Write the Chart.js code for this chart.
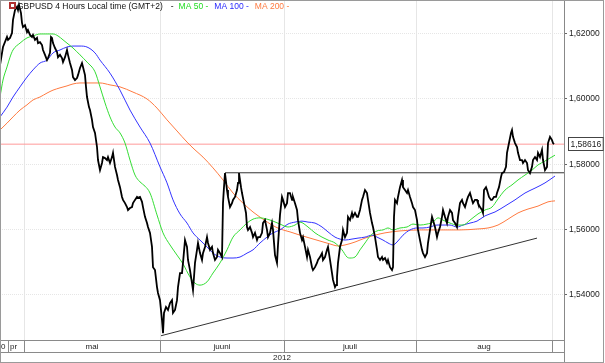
<!DOCTYPE html>
<html><head><meta charset="utf-8">
<script src="https://cdn.jsdelivr.net/npm/chart.js@4"></script>
<style>html,body{margin:0;padding:0;background:#fff}canvas{display:block}</style>
</head><body>
<canvas id="c" width="605" height="363"></canvas>
<script>
const titleText = 'GBPUSD 4 Hours Local time (GMT+2)';
const maNames = ['MA 50', 'MA 100', 'MA 200'];
const yTicks = [1.54, 1.56, 1.58, 1.60, 1.62];
const monthStarts = [24, 160, 284, 416, 552];
const monthLabels = ['mai', 'juuni', 'juuli', 'aug'];
const leadLabels = ['0', 'pr'];
const yearLabel = '2012';
const lastPrice = 1.58616;

// [bar index (4h bars), close]
const priceSeries = [[0,1.6104],[3,1.6159],[7,1.6190],[8,1.6181],[10,1.6187],[12,1.6202],[13,1.6242],[15,1.6272],[17,1.6282],[18,1.6272],[19,1.6288],[21,1.6263],[22,1.6233],[23,1.6220],[25,1.6226],[27,1.6205],[28,1.6211],[30,1.6196],[32,1.6190],[33,1.6196],[35,1.6181],[37,1.6187],[38,1.6171],[40,1.6174],[42,1.6165],[43,1.6150],[45,1.6135],[47,1.6119],[48,1.6125],[50,1.6141],[51,1.6190],[52,1.6187],[53,1.6171],[55,1.6156],[57,1.6144],[58,1.6128],[60,1.6135],[62,1.6125],[63,1.6113],[65,1.6128],[67,1.6150],[68,1.6135],[70,1.6110],[72,1.6089],[73,1.6067],[75,1.6058],[77,1.6064],[78,1.6073],[80,1.6095],[82,1.6110],[83,1.6098],[85,1.6073],[86,1.6037],[87,1.6006],[89,1.5975],[90,1.5966],[92,1.5936],[93,1.5914],[95,1.5896],[97,1.5853],[98,1.5813],[100,1.5782],[102,1.5804],[103,1.5822],[105,1.5819],[107,1.5813],[108,1.5822],[110,1.5804],[112,1.5822],[113,1.5835],[115,1.5792],[117,1.5767],[118,1.5752],[120,1.5730],[122,1.5700],[123,1.5691],[125,1.5681],[127,1.5669],[128,1.5660],[130,1.5666],[132,1.5669],[133,1.5681],[135,1.5691],[137,1.5700],[138,1.5697],[140,1.5700],[142,1.5685],[143,1.5669],[145,1.5639],[147,1.5620],[148,1.5608],[150,1.5590],[152,1.5547],[153,1.5485],[155,1.5476],[157,1.5424],[158,1.5406],[160,1.5384],[162,1.5323],[163,1.5283],[164,1.5345],[166,1.5363],[168,1.5354],[170,1.5375],[172,1.5384],[173,1.5345],[175,1.5354],[177,1.5384],[178,1.5424],[180,1.5467],[182,1.5467],[183,1.5498],[185,1.5568],[187,1.5547],[188,1.5507],[190,1.5476],[192,1.5436],[193,1.5415],[194,1.5455],[195,1.5498],[197,1.5538],[198,1.5559],[200,1.5528],[202,1.5507],[203,1.5528],[205,1.5547],[207,1.5577],[208,1.5559],[210,1.5538],[212,1.5547],[213,1.5528],[215,1.5507],[217,1.5516],[218,1.5538],[220,1.5528],[222,1.5516],[223,1.5681],[224,1.5730],[225,1.5773],[227,1.5721],[228,1.5700],[230,1.5669],[232,1.5681],[233,1.5691],[235,1.5700],[237,1.5721],[238,1.5743],[239,1.5773],[241,1.5730],[242,1.5712],[244,1.5681],[246,1.5651],[247,1.5608],[248,1.5599],[250,1.5608],[252,1.5590],[253,1.5577],[255,1.5590],[257,1.5568],[258,1.5577],[260,1.5577],[262,1.5590],[263,1.5620],[265,1.5629],[267,1.5599],[268,1.5577],[270,1.5590],[272,1.5620],[273,1.5599],[275,1.5522],[277,1.5498],[278,1.5553],[280,1.5645],[282,1.5700],[283,1.5691],[285,1.5669],[287,1.5681],[288,1.5712],[290,1.5712],[292,1.5691],[293,1.5700],[295,1.5681],[297,1.5660],[298,1.5629],[300,1.5590],[302,1.5568],[303,1.5577],[305,1.5547],[307,1.5516],[308,1.5538],[310,1.5516],[312,1.5485],[313,1.5476],[315,1.5485],[317,1.5498],[318,1.5507],[320,1.5516],[322,1.5528],[323,1.5507],[325,1.5516],[327,1.5538],[328,1.5547],[330,1.5507],[332,1.5467],[333,1.5446],[335,1.5424],[336,1.5430],[337,1.5455],[338,1.5498],[340,1.5547],[342,1.5568],[343,1.5599],[345,1.5577],[347,1.5590],[348,1.5639],[350,1.5629],[352,1.5651],[353,1.5639],[355,1.5651],[357,1.5639],[358,1.5639],[360,1.5660],[362,1.5691],[363,1.5700],[365,1.5721],[367,1.5712],[368,1.5691],[370,1.5651],[372,1.5620],[373,1.5608],[375,1.5577],[377,1.5538],[378,1.5516],[380,1.5507],[382,1.5516],[383,1.5507],[385,1.5513],[387,1.5498],[388,1.5507],[390,1.5485],[392,1.5476],[393,1.5485],[394,1.5639],[395,1.5691],[397,1.5681],[398,1.5700],[400,1.5730],[402,1.5752],[403,1.5730],[405,1.5721],[407,1.5712],[408,1.5721],[410,1.5700],[412,1.5681],[413,1.5669],[415,1.5660],[417,1.5629],[418,1.5599],[420,1.5568],[422,1.5538],[423,1.5528],[425,1.5516],[427,1.5528],[428,1.5559],[430,1.5599],[432,1.5639],[433,1.5629],[435,1.5608],[437,1.5577],[438,1.5590],[440,1.5608],[442,1.5639],[443,1.5660],[445,1.5639],[447,1.5620],[448,1.5639],[450,1.5660],[452,1.5651],[453,1.5629],[455,1.5620],[457,1.5608],[458,1.5639],[460,1.5681],[462,1.5691],[463,1.5681],[465,1.5669],[467,1.5691],[468,1.5700],[470,1.5712],[472,1.5691],[473,1.5681],[475,1.5691],[477,1.5691],[478,1.5681],[480,1.5669],[482,1.5660],[483,1.5651],[484,1.5721],[486,1.5730],[487,1.5721],[489,1.5700],[491,1.5691],[492,1.5691],[494,1.5700],[496,1.5700],[497,1.5712],[499,1.5730],[501,1.5761],[502,1.5773],[504,1.5776],[506,1.5792],[507,1.5835],[509,1.5865],[511,1.5896],[512,1.5905],[513,1.5884],[515,1.5865],[517,1.5853],[518,1.5835],[520,1.5813],[522,1.5813],[523,1.5804],[525,1.5813],[527,1.5804],[528,1.5782],[530,1.5773],[532,1.5792],[533,1.5813],[535,1.5822],[537,1.5813],[538,1.5835],[540,1.5822],[542,1.5844],[543,1.5813],[545,1.5782],[547,1.5792],[548,1.5865],[550,1.5884],[552,1.5874],[553,1.5865],[554,1.5862]];

const ma50 = [[0,1.6006],[3,1.6058],[7,1.6098],[10,1.6128],[13,1.6150],[20,1.6171],[27,1.6187],[33,1.6193],[40,1.6199],[47,1.6199],[53,1.6199],[58,1.6193],[63,1.6181],[67,1.6171],[73,1.6156],[80,1.6135],[87,1.6113],[95,1.6083],[100,1.6037],[105,1.5988],[110,1.5945],[115,1.5914],[120,1.5896],[125,1.5865],[130,1.5813],[135,1.5767],[140,1.5746],[145,1.5733],[150,1.5712],[157,1.5645],[163,1.5590],[170,1.5553],[177,1.5522],[183,1.5495],[190,1.5455],[195,1.5436],[200,1.5430],[207,1.5440],[213,1.5467],[220,1.5498],[227,1.5538],[233,1.5577],[240,1.5599],[247,1.5620],[253,1.5632],[260,1.5636],[267,1.5632],[273,1.5626],[280,1.5617],[288,1.5608],[295,1.5614],[300,1.5623],[308,1.5608],[315,1.5590],[322,1.5577],[328,1.5568],[335,1.5559],[342,1.5538],[347,1.5516],[350,1.5513],[355,1.5516],[360,1.5538],[365,1.5559],[370,1.5580],[377,1.5596],[383,1.5599],[388,1.5605],[393,1.5599],[400,1.5605],[407,1.5608],[413,1.5617],[420,1.5614],[427,1.5617],[433,1.5623],[438,1.5636],[443,1.5629],[450,1.5620],[457,1.5614],[463,1.5614],[470,1.5629],[478,1.5648],[485,1.5660],[492,1.5669],[498,1.5694],[505,1.5721],[512,1.5737],[518,1.5752],[525,1.5767],[532,1.5782],[538,1.5798],[545,1.5810],[550,1.5819],[555,1.5828]];

const ma100 = [[0,1.5945],[7,1.5975],[13,1.6006],[20,1.6037],[27,1.6067],[33,1.6089],[40,1.6110],[47,1.6119],[53,1.6141],[60,1.6150],[67,1.6159],[73,1.6162],[80,1.6162],[87,1.6159],[95,1.6141],[100,1.6119],[110,1.6079],[120,1.6027],[130,1.5966],[140,1.5914],[150,1.5865],[160,1.5792],[167,1.5743],[173,1.5691],[180,1.5648],[187,1.5620],[193,1.5590],[200,1.5568],[207,1.5547],[213,1.5528],[220,1.5516],[227,1.5513],[233,1.5513],[240,1.5516],[247,1.5528],[253,1.5538],[260,1.5559],[267,1.5577],[273,1.5590],[280,1.5599],[288,1.5617],[295,1.5623],[302,1.5626],[308,1.5623],[315,1.5620],[322,1.5608],[328,1.5593],[335,1.5577],[340,1.5571],[345,1.5568],[352,1.5571],[358,1.5574],[365,1.5577],[372,1.5583],[377,1.5577],[383,1.5568],[388,1.5559],[393,1.5553],[397,1.5562],[403,1.5583],[410,1.5599],[417,1.5605],[423,1.5605],[430,1.5608],[437,1.5614],[443,1.5614],[450,1.5614],[457,1.5608],[463,1.5614],[470,1.5620],[477,1.5626],[485,1.5642],[495,1.5654],[505,1.5672],[515,1.5691],[525,1.5712],[535,1.5727],[545,1.5743],[555,1.5764]];

const ma200 = [[0,1.5905],[7,1.5926],[13,1.5945],[20,1.5966],[27,1.5982],[33,1.5997],[40,1.6006],[47,1.6018],[53,1.6027],[60,1.6034],[67,1.6040],[73,1.6046],[80,1.6049],[90,1.6049],[100,1.6049],[110,1.6043],[120,1.6037],[133,1.6021],[147,1.6000],[157,1.5972],[167,1.5936],[177,1.5902],[187,1.5868],[195,1.5844],[203,1.5822],[213,1.5789],[223,1.5752],[233,1.5712],[243,1.5681],[253,1.5654],[263,1.5632],[272,1.5614],[280,1.5602],[290,1.5593],[300,1.5583],[310,1.5574],[320,1.5565],[330,1.5556],[338,1.5550],[345,1.5553],[355,1.5562],[365,1.5574],[375,1.5583],[385,1.5590],[400,1.5596],[420,1.5599],[440,1.5599],[460,1.5599],[478,1.5602],[488,1.5605],[498,1.5614],[508,1.5632],[518,1.5651],[528,1.5663],[538,1.5672],[548,1.5685],[555,1.5688]];

const resistanceLine = [[225,1.5774],[564,1.5774]];
const supportLine = [[161,1.5275],[537,1.5574]];
const lastPriceLine = [[0,lastPrice],[564,lastPrice]];

const FONT = '"Liberation Sans", Arial, sans-serif';
const pts = a => a.map(([x, y]) => ({x, y}));

const deco = {
  id: 'deco',
  afterDraw(chart) {
    const ctx = chart.ctx, ca = chart.chartArea, xs = chart.scales.x, ys = chart.scales.y;
    ctx.save();
    // bottom time axis
    const top = Math.round(ca.bottom) + 0.5, mid = top + 12, right = Math.round(ca.right) + 0.5;
    ctx.strokeStyle = '#8a8a8a'; ctx.lineWidth = 1;
    ctx.beginPath();
    ctx.moveTo(0, top); ctx.lineTo(right, top);
    ctx.moveTo(0, mid); ctx.lineTo(right, mid);
    ctx.moveTo(right, top - 0.5); ctx.lineTo(right, 363);
    ctx.moveTo(8.5, top); ctx.lineTo(8.5, mid);
    monthStarts.forEach(m => { const px = Math.round(xs.getPixelForValue(m)) + 0.5; ctx.moveTo(px, top); ctx.lineTo(px, mid); });
    ctx.stroke();
    // outer frame
    ctx.strokeStyle = '#9a9a9a';
    ctx.strokeRect(0.5, 0.5, 603, 362);
    ctx.fillStyle = '#222'; ctx.font = '8px ' + FONT; ctx.textBaseline = 'middle';
    ctx.textAlign = 'left';
    ctx.fillText(leadLabels[0], 1, top + 6.5);
    ctx.fillText(leadLabels[1], 10, top + 6.5);
    ctx.textAlign = 'center';
    monthLabels.forEach((lab, i) => {
      const a = xs.getPixelForValue(monthStarts[i]), b = xs.getPixelForValue(monthStarts[i + 1]);
      ctx.fillText(lab, (a + b) / 2, top + 6.5);
    });
    ctx.fillText(yearLabel, (xs.getPixelForValue(xs.min) + xs.getPixelForValue(xs.max)) / 2, mid + 5.5);
    // last price box
    const py = ys.getPixelForValue(lastPrice);
    ctx.font = '8.5px ' + FONT; ctx.textAlign = 'left';
    const lab = lastPrice.toFixed(5).replace('.', ',');
    const w = ctx.measureText(lab).width;
    ctx.fillStyle = '#fff';
    ctx.fillRect(right + 4, Math.round(py) - 6, w + 4, 13);
    ctx.strokeStyle = '#444';
    ctx.strokeRect(right + 4, Math.round(py) - 6.5, w + 4, 13);
    ctx.fillStyle = '#222';
    ctx.fillText(lab, right + 6, py + 0.5);
    // title
    ctx.fillStyle = '#b03030'; ctx.fillRect(9, 2, 7, 7);
    ctx.fillStyle = '#fff'; ctx.fillRect(11, 4, 3, 3);
    ctx.font = '8.5px ' + FONT; ctx.textBaseline = 'middle'; ctx.textAlign = 'left';
    let x = 17; const ty = 7;
    ctx.fillStyle = '#111'; ctx.fillText(titleText, x, ty); x += ctx.measureText(titleText).width + 8;
    ctx.fillText('-', x, ty); x += ctx.measureText('-').width + 5;
    const cols = ['#22dd22', '#2a2aff', '#ff7a40'];
    maNames.forEach((n, i) => { ctx.fillStyle = cols[i]; const s = n + ' -'; ctx.fillText(s, x, ty); x += ctx.measureText(s).width + 6; });
    ctx.restore();
  }
};

new Chart(document.getElementById('c'), {
  type: 'line',
  data: {
    datasets: [
      { data: pts(priceSeries), borderColor: '#000', borderWidth: 1.8, pointRadius: 0, tension: 0, order: 0 },
      { data: pts(ma50), borderColor: '#33dd33', borderWidth: 1, pointRadius: 0, cubicInterpolationMode: 'monotone', order: 1 },
      { data: pts(ma100), borderColor: '#3333ff', borderWidth: 1, pointRadius: 0, cubicInterpolationMode: 'monotone', order: 2 },
      { data: pts(ma200), borderColor: '#ff7a40', borderWidth: 1, pointRadius: 0, cubicInterpolationMode: 'monotone', order: 3 },
      { data: pts(resistanceLine), borderColor: '#333', borderWidth: 1, pointRadius: 0, order: 4 },
      { data: pts(supportLine), borderColor: '#333', borderWidth: 1, pointRadius: 0, order: 4 },
      { data: pts(lastPriceLine), borderColor: '#ff9a9a', borderWidth: 1, pointRadius: 0, order: 5 }
    ]
  },
  options: {
    responsive: false, animation: false, devicePixelRatio: 1, events: [],
    layout: { padding: { left: 0, right: 0, top: 0, bottom: 23 } },
    plugins: { legend: { display: false }, tooltip: { enabled: false } },
    scales: {
      x: {
        type: 'linear', min: 0, max: 564,
        afterBuildTicks: s => { s.ticks = monthStarts.map(v => ({ value: v })); },
        afterFit: s => { s.height = 0; s.paddingLeft = 0; s.paddingRight = 0; },
        ticks: { display: false },
        grid: { color: '#e6e6e6', drawTicks: false },
        border: { display: false }
      },
      y: {
        position: 'right', min: 1.5262, max: 1.6303,
        afterBuildTicks: s => { s.ticks = yTicks.map(v => ({ value: v })); },
        afterFit: s => { s.width = 41; s.paddingTop = 0; s.paddingBottom = 0; },
        ticks: { callback: v => Number(v).toFixed(5).replace('.', ','), font: { family: FONT, size: 8.5 }, color: '#222', padding: 2 },
        grid: { color: '#e6e6e6', tickLength: 3, tickColor: '#666' },
        border: { display: true, color: '#888', dash: [1, 1] }
      }
    }
  },
  plugins: [deco]
});
</script>
</body></html>
